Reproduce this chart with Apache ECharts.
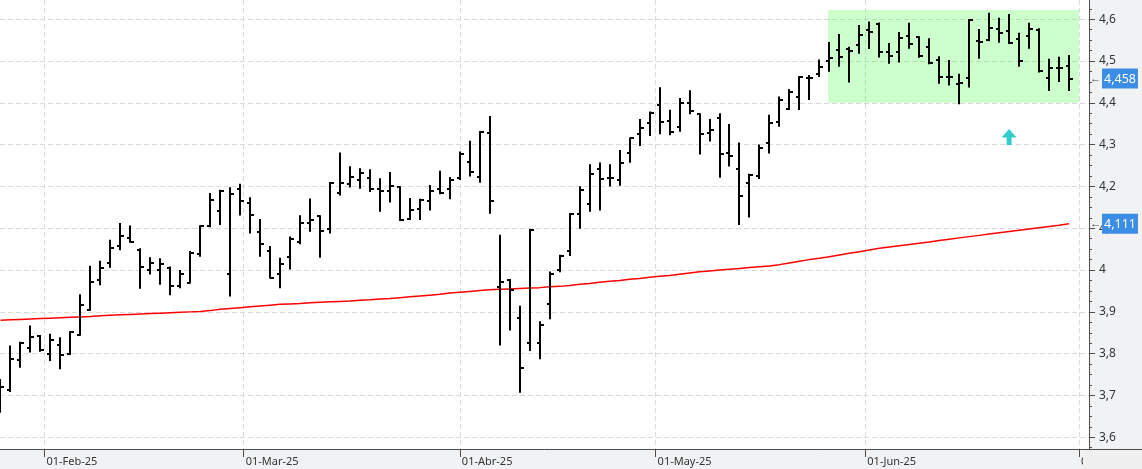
<!DOCTYPE html>
<html>
<head>
<meta charset="utf-8">
<title>OHLC</title>
<script src="https://cdn.jsdelivr.net/npm/echarts@6/dist/echarts.min.js"></script>
<style>
  html, body { margin: 0; padding: 0; background: #f1f2f4; }
  #main { width: 1142px; height: 469px; }
</style>
</head>
<body>
<div id="main"></div>
<script>
// sesiones 27-ene-25 .. 30-jun-25
const dates = [
  '2025-01-27','2025-01-28','2025-01-29','2025-01-30','2025-01-31',
  '2025-02-03','2025-02-04','2025-02-05','2025-02-06','2025-02-07','2025-02-10','2025-02-11','2025-02-12','2025-02-13','2025-02-14',
  '2025-02-17','2025-02-18','2025-02-19','2025-02-20','2025-02-21','2025-02-24','2025-02-25','2025-02-26','2025-02-27','2025-02-28',
  '2025-03-03','2025-03-04','2025-03-05','2025-03-06','2025-03-07','2025-03-10','2025-03-11','2025-03-12','2025-03-13','2025-03-14',
  '2025-03-17','2025-03-18','2025-03-19','2025-03-20','2025-03-21','2025-03-24','2025-03-25','2025-03-26','2025-03-27','2025-03-28','2025-03-31',
  '2025-04-01','2025-04-02','2025-04-03','2025-04-04','2025-04-07','2025-04-08','2025-04-09','2025-04-10','2025-04-11','2025-04-14',
  '2025-04-15','2025-04-16','2025-04-17','2025-04-22','2025-04-23','2025-04-24','2025-04-25','2025-04-28','2025-04-29','2025-04-30',
  '2025-05-02','2025-05-05','2025-05-06','2025-05-07','2025-05-08','2025-05-09','2025-05-12','2025-05-13','2025-05-14','2025-05-15',
  '2025-05-16','2025-05-19','2025-05-20','2025-05-21','2025-05-22','2025-05-23','2025-05-26','2025-05-27','2025-05-28','2025-05-29','2025-05-30',
  '2025-06-02','2025-06-03','2025-06-04','2025-06-05','2025-06-06','2025-06-09','2025-06-10','2025-06-11','2025-06-12','2025-06-13',
  '2025-06-16','2025-06-17','2025-06-18','2025-06-19','2025-06-20','2025-06-23','2025-06-24','2025-06-25','2025-06-26','2025-06-27','2025-06-30'
]
const open = [3.690,3.713,3.785,3.813,3.842,3.799,3.821,3.799,3.845,3.905,
  3.976,4.016,4.058,4.076,4.048,4.000,4.000,4.004,3.962,3.970,
  4.038,4.105,4.142,3.991,4.193,4.161,4.092,4.046,3.991,4.031,
  4.066,4.113,4.129,4.098,4.185,4.205,4.216,4.220,4.193,4.189,
  4.198,4.122,4.146,4.165,4.193,4.193,4.221,4.258,4.223,4.327,
  3.959,3.976,3.885,3.825,3.825,3.919,4.000,4.046,4.134,4.157,
  4.242,4.220,4.216,4.279,4.326,4.351,4.395,4.357,4.342,4.399,
  4.373,4.327,4.363,4.281,4.241,4.208,4.226,4.305,4.355,4.385,
  4.413,4.460,4.468,4.500,4.527,4.528,4.539,4.574,4.589,4.521,
  4.521,4.560,4.557,4.534,4.503,4.461,4.445,4.459,4.549,4.550,
  4.577,4.573,4.553,4.560,4.574,4.459,4.483,4.487]
const high = [3.737,3.817,3.826,3.865,3.842,3.845,3.837,3.851,3.940,4.008,
  4.020,4.070,4.110,4.104,4.050,4.028,4.026,4.006,3.998,4.043,
  4.105,4.182,4.190,4.196,4.204,4.172,4.120,4.055,4.027,4.078,
  4.129,4.169,4.129,4.208,4.279,4.246,4.241,4.239,4.217,4.232,
  4.198,4.170,4.168,4.201,4.235,4.220,4.281,4.307,4.330,4.366,
  4.082,3.976,3.912,4.096,3.875,3.994,4.034,4.134,4.198,4.251,
  4.255,4.251,4.285,4.315,4.359,4.377,4.435,4.381,4.409,4.428,
  4.373,4.359,4.373,4.347,4.303,4.228,4.298,4.369,4.413,4.431,
  4.461,4.464,4.501,4.543,4.562,4.532,4.584,4.592,4.590,4.541,
  4.567,4.589,4.557,4.552,4.509,4.500,4.467,4.598,4.574,4.613,
  4.601,4.610,4.565,4.589,4.576,4.503,4.508,4.512]
const low = [3.661,3.711,3.769,3.805,3.807,3.785,3.765,3.799,3.845,3.905,
  3.966,4.008,4.050,4.068,3.958,3.992,3.967,3.942,3.959,3.970,
  4.034,4.105,4.110,3.939,4.133,4.090,4.034,3.982,3.959,4.004,
  4.064,4.094,4.032,4.090,4.181,4.200,4.197,4.189,4.142,4.164,
  4.120,4.122,4.122,4.145,4.184,4.172,4.218,4.226,4.211,4.137,
  3.822,3.858,3.709,3.809,3.789,3.885,3.997,4.036,4.101,4.142,
  4.145,4.202,4.204,4.259,4.299,4.323,4.327,4.325,4.333,4.375,
  4.279,4.310,4.223,4.250,4.110,4.128,4.220,4.281,4.345,4.385,
  4.385,4.409,4.464,4.477,4.489,4.451,4.520,4.531,4.511,4.496,
  4.499,4.532,4.510,4.495,4.448,4.444,4.399,4.439,4.508,4.550,
  4.546,4.543,4.489,4.532,4.475,4.431,4.452,4.431]
const close = [3.721,3.787,3.826,3.839,3.810,3.833,3.797,3.851,3.916,3.971,
  4.004,4.052,4.082,4.068,4.007,4.016,4.015,3.962,3.991,4.042,
  4.105,4.168,4.190,4.182,4.165,4.132,4.062,3.982,4.014,4.074,
  4.113,4.120,4.094,4.208,4.208,4.222,4.232,4.193,4.189,4.201,
  4.120,4.144,4.168,4.189,4.184,4.216,4.278,4.234,4.330,4.165,
  3.971,3.952,3.766,4.096,3.869,3.991,4.034,4.134,4.192,4.229,
  4.218,4.220,4.255,4.315,4.339,4.375,4.353,4.330,4.399,4.381,
  4.325,4.335,4.277,4.273,4.176,4.228,4.293,4.351,4.407,4.427,
  4.461,4.460,4.485,4.507,4.509,4.524,4.562,4.569,4.522,4.511,
  4.555,4.540,4.511,4.496,4.461,4.461,4.447,4.597,4.545,4.578,
  4.566,4.544,4.500,4.576,4.476,4.483,4.483,4.458]
// media movil (linea roja)
const ma = [3.880,3.881,3.882,3.883,3.884,3.885,3.886,3.887,3.888,3.889,
  3.891,3.892,3.893,3.894,3.895,3.896,3.897,3.898,3.899,3.900,
  3.901,3.903,3.906,3.908,3.910,3.912,3.914,3.916,3.918,3.919,
  3.920,3.922,3.923,3.924,3.925,3.926,3.928,3.929,3.931,3.932,
  3.934,3.936,3.938,3.940,3.942,3.945,3.947,3.949,3.951,3.953,
  3.954,3.955,3.956,3.957,3.958,3.960,3.961,3.963,3.966,3.968,
  3.971,3.973,3.975,3.978,3.980,3.983,3.985,3.987,3.990,3.993,
  3.996,3.998,4.000,4.002,4.004,4.006,4.008,4.010,4.013,4.017,
  4.021,4.025,4.028,4.032,4.036,4.040,4.044,4.048,4.052,4.055,
  4.058,4.061,4.064,4.067,4.071,4.074,4.077,4.080,4.083,4.086,
  4.089,4.092,4.095,4.098,4.101,4.104,4.107,4.111]

// eje x: etiquetas de mes (posicion en sesiones)
const monthLabels = ['01-Feb-25','01-Mar-25','01-Abr-25','01-May-25','01-Jun-25','01-Jul-25']
const monthPos = [4.4, 24.35, 46, 65.6, 86.6, 108]
// eje y
const yTicks = [3.6,3.7,3.8,3.9,4.0,4.1,4.2,4.3,4.4,4.5,4.6]
// zona verde y flecha
const boxX = [82.85, 108.0]
const boxY = [4.40, 4.622]
const arrowAt = [101.0, 4.318]
// etiquetas azules: ultimo cierre y ultima media
const tagValues = [close[close.length - 1], ma[ma.length - 1]]

let minorTicks = []
for (let k = 0; k < yTicks.length; k++) {
  [0.025, 0.05, 0.075].forEach(function (d) { minorTicks.push(+(yTicks[k] + d).toFixed(3)) })
}
minorTicks.unshift(3.575)

const bars = dates.map(function (d, i) { return [i, open[i], high[i], low[i], close[i]] })
const maData = ma.map(function (v, i) { return [i, v] })

function fmtComma(v, n) {
  return v.toFixed(n).replace('.', ',')
}

function renderBar(params, api) {
  const i = api.value(0)
  const x = Math.round(api.coord([i, 0])[0])
  const yo = Math.round(api.coord([i, api.value(1)])[1])
  const yh = api.coord([i, api.value(2)])[1]
  const yl = api.coord([i, api.value(3)])[1]
  const yc = Math.round(api.coord([i, api.value(4)])[1])
  const st = { stroke: '#000', lineWidth: 2 }
  return {
    type: 'group',
    children: [
      { type: 'line', shape: { x1: x, y1: yh - 1, x2: x, y2: yl + 1 }, style: st },
      { type: 'line', shape: { x1: x - 3, y1: yo, x2: x, y2: yo }, style: st },
      { type: 'line', shape: { x1: x, y1: yc, x2: x + 4, y2: yc }, style: st }
    ]
  }
}

function getOption() {
  return {
    animation: false,
    backgroundColor: '#f1f2f4',
    grid: { left: 0, right: 53, top: 0, bottom: 20, show: true, backgroundColor: '#fff', borderWidth: 0 },
    xAxis: {
      type: 'value', min: -0.05, max: 109,
      axisLine: { onZero: false, lineStyle: { color: '#4d4d4d' } },
      axisTick: { customValues: monthPos, length: 8, lineStyle: { color: '#4d4d4d' } },
      axisLabel: {
        customValues: monthPos, align: 'left', margin: 7, color: '#333',
        fontFamily: 'Noto Sans', fontSize: 11, padding: [0, 0, 0, 2],
        formatter: function (v) {
          const k = monthPos.indexOf(v)
          return k >= 0 ? monthLabels[k] : ''
        }
      },
      splitLine: { show: true, lineStyle: { type: [5, 3], color: '#dadada' } }
    },
    yAxis: [{
      type: 'value', position: 'right', min: 3.572, max: 4.646,
      axisLine: { show: true, onZero: false, lineStyle: { color: '#4d4d4d' } },
      axisTick: { show: true, customValues: yTicks, length: 6, lineStyle: { color: '#4d4d4d' } },
      axisLabel: {
        customValues: yTicks, margin: 10, color: '#333', fontFamily: 'Noto Sans', fontSize: 12,
        formatter: function (v) { return String(Math.round(v * 10) / 10).replace('.', ',') }
      },
      splitLine: { show: true, lineStyle: { type: [5, 3], color: '#dadada' } }
    }, {
      type: 'value', position: 'right', min: 3.572, max: 4.646,
      axisLine: { show: false, onZero: false },
      axisTick: { show: true, customValues: minorTicks, length: 3, lineStyle: { color: '#4d4d4d' } },
      axisLabel: { show: false },
      splitLine: { show: false }
    }],
    series: [{
      type: 'custom',
      name: 'ohlc',
      z: 5,
      renderItem: renderBar,
      data: bars,
      encode: { x: 0, y: [1, 2, 3, 4] }
    }, {
      type: 'line',
      name: 'media',
      z: 4,
      clip: false,
      data: maData,
      symbol: 'none',
      lineStyle: { color: '#ff0000', width: 1.5 },
      markArea: {
        silent: true,
        itemStyle: { color: 'rgba(0,255,0,0.2)' },
        data: [[{ xAxis: boxX[0], yAxis: boxY[1] }, { xAxis: boxX[1], yAxis: boxY[0] }]]
      },
      markPoint: {
        silent: true,
        symbol: 'path://M7.5,0 L15,8.3 L10,8.3 L10,16 L5,16 L5,8.3 L0,8.3 Z',
        symbolSize: [15, 16],
        itemStyle: { color: '#33cccc' },
        label: { show: false },
        data: [{ coord: arrowAt }]
      },
      markLine: {
        silent: true,
        symbol: ['none', 'none'],
        precision: 3,
        lineStyle: { color: 'rgba(0,0,0,0)', width: 0, type: 'solid' },
        label: {
          show: true, position: 'end', distance: 1, opacity: 1,
          formatter: function (p) { return '{a|←}{b|' + fmtComma(tagValues[p.dataIndex], 3) + '}' },
          rich: {
            a: { color: '#444', fontSize: 11, padding: [0, 1, 0, 0] },
            b: { color: '#fff', backgroundColor: '#3c8de6', fontFamily: 'Noto Sans', fontSize: 12.5, padding: [4, 2, 3, 2] }
          }
        },
        data: [{ yAxis: tagValues[0] }, { yAxis: tagValues[1] }]
      }
    }],
    graphic: [
      { type: 'rect', z: 100, shape: { x: 1083, y: 450, width: 59, height: 19 }, style: { fill: '#f0f0f0' } },
      { type: 'line', z: 100, shape: { x1: 1089, y1: 449.5, x2: 1142, y2: 449.5 }, style: { stroke: '#4d4d4d', lineWidth: 1 } }
    ]
  }
}

let chart = echarts.init(document.getElementById('main'))
chart.setOption(getOption())
</script>
</body>
</html>
